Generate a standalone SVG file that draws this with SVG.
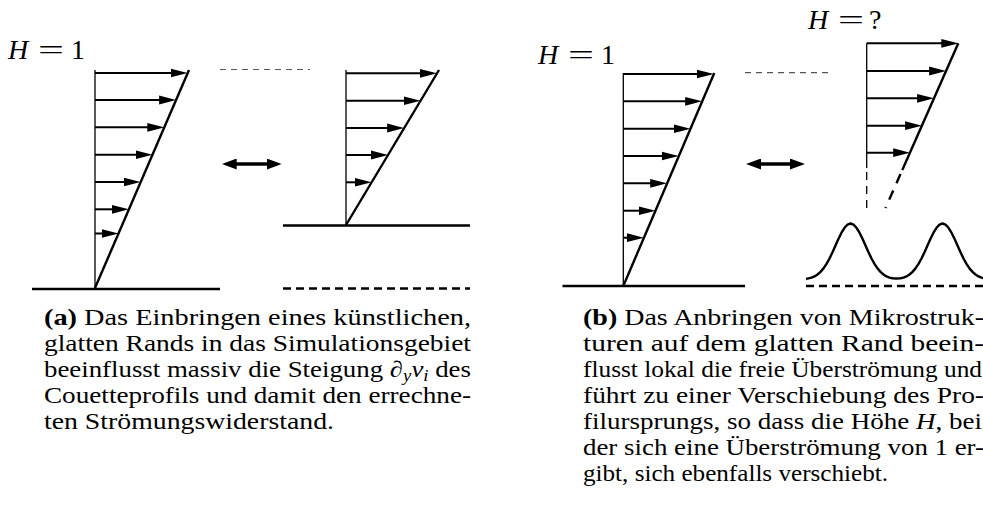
<svg xmlns="http://www.w3.org/2000/svg" width="983" height="510" viewBox="0 0 983 510">
<style>
.v{stroke:#000;stroke-width:1.3;fill:none}
.s{stroke:#000;stroke-width:2.4;fill:none}
.g{stroke:#000;stroke-width:2.4;fill:none}
.a{stroke:#000;stroke-width:2;marker-end:url(#ah)}
.dt{stroke:#555;stroke-width:1.2;stroke-dasharray:6 5;fill:none}
.db{stroke:#000;stroke-width:2.4;stroke-dasharray:8 5;fill:none}
.dv{stroke:#000;stroke-width:1.3;stroke-dasharray:8 6;fill:none}
.ds{stroke:#000;stroke-width:2.4;stroke-dasharray:10 8;fill:none}
.da{stroke:#000;stroke-width:3.6;marker-start:url(#dh);marker-end:url(#dh)}
.lab{font-family:"Liberation Serif",serif;font-size:28px;fill:#000}
.cap{font-family:"Liberation Serif",serif;font-size:23px;fill:#000}
.it{font-style:italic}
</style>
<defs>
<marker id="ah" markerUnits="userSpaceOnUse" viewBox="0 0 17 10" markerWidth="17" markerHeight="10" refX="9" refY="5" orient="auto"><path d="M0,0.6 L17,5 L0,9.4 z" fill="#000"/></marker>
<marker id="dh" markerUnits="userSpaceOnUse" viewBox="0 0 15 11" markerWidth="15" markerHeight="11" refX="7" refY="5.5" orient="auto-start-reverse"><path d="M0,0 L15,5.5 L0,11 z" fill="#000"/></marker>
</defs>
<rect width="983" height="510" fill="#fff"/>

<g id="panel-a-left">
<line class="g" x1="32" y1="289" x2="220" y2="289"/>
<line class="v" x1="95" y1="70" x2="95" y2="289"/>
<line class="s" x1="95" y1="288" x2="189" y2="70"/>
<line class="a" x1="95" y1="73" x2="179.7" y2="73"/>
<line class="a" x1="95" y1="100" x2="168.1" y2="100"/>
<line class="a" x1="95" y1="127.3" x2="156.3" y2="127.3"/>
<line class="a" x1="95" y1="154.7" x2="144.5" y2="154.7"/>
<line class="a" x1="95" y1="182" x2="132.7" y2="182"/>
<line class="a" x1="95" y1="209.3" x2="120.9" y2="209.3"/>
<line class="a" x1="95" y1="233.5" x2="110.5" y2="233.5"/>
<text class="lab" y="58.5"><tspan class="it" x="8">H</tspan><tspan x="38" textLength="26" lengthAdjust="spacingAndGlyphs">=</tspan><tspan x="71">1</tspan></text>
</g>

<g id="panel-a-right">
<line class="dt" x1="220" y1="69.5" x2="310" y2="69.5"/>
<line class="g" x1="283" y1="225.5" x2="470" y2="225.5"/>
<line class="db" x1="283" y1="288.5" x2="470" y2="288.5"/>
<line class="v" x1="346" y1="70" x2="346" y2="225.5"/>
<line class="s" x1="346" y1="225" x2="439" y2="70"/>
<line class="a" x1="346" y1="73.3" x2="429" y2="73.3"/>
<line class="a" x1="346" y1="100.7" x2="412.6" y2="100.7"/>
<line class="a" x1="346" y1="128" x2="396.2" y2="128"/>
<line class="a" x1="346" y1="155" x2="380" y2="155"/>
<line class="a" x1="346" y1="182.3" x2="363.6" y2="182.3"/>
</g>

<g id="panel-b-left">
<line class="g" x1="562.5" y1="286" x2="745" y2="286"/>
<line class="v" x1="623.3" y1="73" x2="623.3" y2="286"/>
<line class="s" x1="623.3" y1="286" x2="714.3" y2="73"/>
<line class="a" x1="623.3" y1="74" x2="705.9" y2="74"/>
<line class="a" x1="623.3" y1="101.3" x2="694.2" y2="101.3"/>
<line class="a" x1="623.3" y1="128.7" x2="682.5" y2="128.7"/>
<line class="a" x1="623.3" y1="156" x2="670.8" y2="156"/>
<line class="a" x1="623.3" y1="183.3" x2="659.2" y2="183.3"/>
<line class="a" x1="623.3" y1="210.7" x2="647.5" y2="210.7"/>
<line class="a" x1="623.3" y1="237.7" x2="635.9" y2="237.7"/>
<text class="lab" y="63.5"><tspan class="it" x="538">H</tspan><tspan x="568" textLength="26" lengthAdjust="spacingAndGlyphs">=</tspan><tspan x="601">1</tspan></text>
</g>

<g id="panel-b-right">
<line class="dt" x1="745" y1="72.7" x2="833" y2="72.7"/>
<line class="v" x1="866.7" y1="43.3" x2="866.7" y2="168"/>
<line class="dv" x1="866.7" y1="172" x2="866.7" y2="211"/>
<line class="s" x1="958.3" y1="43.3" x2="902.3" y2="170"/>
<line class="ds" x1="900.5" y1="174" x2="885.5" y2="208"/>
<line class="a" x1="866.7" y1="43.3" x2="950.3" y2="43.3"/>
<line class="a" x1="866.7" y1="71" x2="938.1" y2="71"/>
<line class="a" x1="866.7" y1="98.3" x2="926.1" y2="98.3"/>
<line class="a" x1="866.7" y1="125.7" x2="914.1" y2="125.7"/>
<line class="a" x1="866.7" y1="152.7" x2="902.2" y2="152.7"/>
<line class="db" x1="806" y1="286" x2="983" y2="286"/>
<path class="s" stroke-linejoin="round" d="M806,278.8 L808.5,278.4 L811.5,277.6 L814.5,276.4 L817.5,274.5 L820.5,271.9 L823.5,268.4 L826.5,263.9 L829.5,258.5 L832.5,252.2 L835.5,245.5 L838.5,238.8 L841.5,232.7 L844.5,227.8 L847.5,224.6 L850.5,223.5 L853.5,224.6 L856.5,227.8 L859.5,232.7 L862.5,238.8 L865.5,245.5 L868.5,252.2 L871.5,258.5 L874.5,263.9 L877.5,268.4 L880.5,271.9 L883.5,274.5 L886.5,276.4 L889.5,277.6 L892.5,278.2 L896.5,278.5 L900.5,278.2 L903.5,277.6 L906.5,276.4 L909.5,274.5 L912.5,271.9 L915.5,268.4 L918.5,263.9 L921.5,258.5 L924.5,252.2 L927.5,245.5 L930.5,238.8 L933.5,232.7 L936.5,227.8 L939.5,224.6 L942.5,223.5 L945.5,224.6 L948.5,227.8 L951.5,232.7 L954.5,238.8 L957.5,245.5 L960.5,252.2 L963.5,258.5 L966.5,263.9 L969.5,268.4 L972.5,271.9 L975.5,274.5 L978.5,276.4 L981.5,277.6 L984,278.3"/>
<text class="lab" y="28.5"><tspan class="it" x="808">H</tspan><tspan x="838" textLength="26" lengthAdjust="spacingAndGlyphs">=</tspan><tspan x="869">?</tspan></text>
</g>

<g id="connectors">
<line class="da" x1="229.7" y1="164" x2="273.7" y2="164"/>
<line class="da" x1="754" y1="164" x2="797" y2="164"/>
</g>

<g id="caption-a" class="cap">
<text x="44" y="325" textLength="427" lengthAdjust="spacingAndGlyphs"><tspan font-weight="bold">(a)</tspan> Das Einbringen eines künstlichen,</text>
<text x="44" y="351" textLength="427" lengthAdjust="spacingAndGlyphs">glatten Rands in das Simulationsgebiet</text>
<text x="44" y="377" textLength="427" lengthAdjust="spacingAndGlyphs">beeinflusst massiv die Steigung ∂<tspan class="it" font-size="16" dy="4">y</tspan><tspan class="it" dy="-4">v</tspan><tspan class="it" font-size="16" dy="4">i</tspan><tspan dy="-4"> des</tspan></text>
<text x="44" y="403" textLength="427" lengthAdjust="spacingAndGlyphs">Couetteprofils und damit den errechne-</text>
<text x="44" y="429" textLength="290" lengthAdjust="spacingAndGlyphs">ten Strömungswiderstand.</text>
</g>

<g id="caption-b" class="cap">
<text x="583" y="325" textLength="401" lengthAdjust="spacingAndGlyphs"><tspan font-weight="bold">(b)</tspan> Das Anbringen von Mikrostruk-</text>
<text x="583" y="351" textLength="401" lengthAdjust="spacingAndGlyphs">turen auf dem glatten Rand beein-</text>
<text x="583" y="377" textLength="399" lengthAdjust="spacingAndGlyphs">flusst lokal die freie Überströmung und</text>
<text x="583" y="403" textLength="401" lengthAdjust="spacingAndGlyphs">führt zu einer Verschiebung des Pro-</text>
<text x="583" y="429" textLength="399" lengthAdjust="spacingAndGlyphs">filursprungs, so dass die Höhe <tspan class="it">H</tspan>, bei</text>
<text x="583" y="455" textLength="401" lengthAdjust="spacingAndGlyphs">der sich eine Überströmung von 1 er-</text>
<text x="583" y="481" textLength="305" lengthAdjust="spacingAndGlyphs">gibt, sich ebenfalls verschiebt.</text>
</g>
</svg>
